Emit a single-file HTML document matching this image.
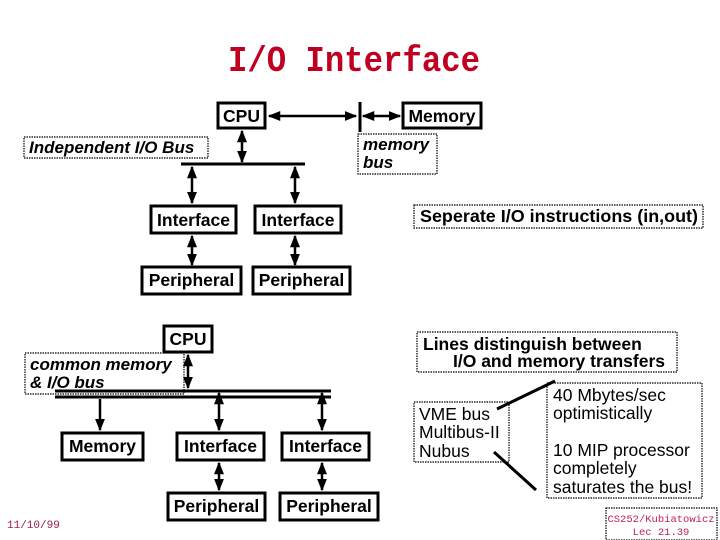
<!DOCTYPE html>
<html><head><style>
body{margin:0;background:#fff}
svg{display:block}
.b{font-family:"Liberation Sans",sans-serif;font-weight:bold;font-size:17.5px}
.i{font-family:"Liberation Sans",sans-serif;font-weight:bold;font-style:italic;font-size:17px}
.n{font-family:"Liberation Sans",sans-serif;font-size:17.5px}
</style></head><body>
<svg width="720" height="540" viewBox="0 0 720 540" xmlns="http://www.w3.org/2000/svg">
<defs>
<marker id="a" viewBox="0 0 10 10" refX="9" refY="5" markerWidth="5" markerHeight="5" orient="auto-start-reverse"><path d="M0,1 L10,5 L0,9z" fill="#000"/></marker>
</defs>
<text x="228" y="71" textLength="252" lengthAdjust="spacingAndGlyphs" font-family="Liberation Mono,monospace" font-weight="bold" font-size="36" fill="#c00020">I/O Interface</text>
<g fill="none" stroke="#000" stroke-width="3">
<rect x="218" y="103" width="47" height="25"/>
<rect x="403" y="103" width="78" height="25"/>
<rect x="151" y="206" width="85" height="27"/>
<rect x="255" y="206" width="86" height="27"/>
<rect x="142" y="267" width="99" height="27"/>
<rect x="253" y="267" width="97" height="27"/>
<rect x="164" y="326" width="48" height="26"/>
<rect x="62" y="433" width="81" height="27"/>
<rect x="177" y="433" width="87" height="27"/>
<rect x="282" y="433" width="87" height="27"/>
<rect x="168" y="493" width="97" height="27"/>
<rect x="280" y="493" width="98" height="27"/>
</g>
<g fill="none" stroke="#000" stroke-width="1.2" stroke-dasharray="1.5,1">
<rect x="24" y="137" width="184" height="21"/>
<rect x="358" y="134" width="79" height="40"/>
<rect x="414" y="205" width="289" height="23"/>
<rect x="25" y="353" width="159" height="41"/>
<rect x="417" y="332" width="260" height="40"/>
<rect x="414" y="402" width="95" height="60"/>
<rect x="547" y="383" width="155" height="115"/>
<rect x="606" y="508" width="111" height="32"/>
</g>
<g stroke="#000" stroke-width="2.5" fill="none">
<line x1="269" y1="116" x2="356" y2="116" marker-start="url(#a)" marker-end="url(#a)"/>
<line x1="363" y1="116" x2="400" y2="116" marker-start="url(#a)" marker-end="url(#a)"/>
<line x1="360" y1="102" x2="360" y2="132" stroke-width="3"/>
<line x1="242" y1="131" x2="242" y2="162" marker-start="url(#a)" marker-end="url(#a)"/>
<line x1="181" y1="164" x2="305" y2="164" stroke-width="3"/>
<line x1="192" y1="167" x2="192" y2="203" marker-start="url(#a)" marker-end="url(#a)"/>
<line x1="295" y1="167" x2="295" y2="203" marker-start="url(#a)" marker-end="url(#a)"/>
<line x1="192" y1="236" x2="192" y2="265" marker-start="url(#a)" marker-end="url(#a)"/>
<line x1="295" y1="236" x2="295" y2="265" marker-start="url(#a)" marker-end="url(#a)"/>
<line x1="188" y1="355" x2="188" y2="388" marker-start="url(#a)" marker-end="url(#a)"/>
<line x1="55" y1="391" x2="331" y2="391" stroke-width="3"/>
<line x1="55" y1="397" x2="331" y2="397" stroke-width="3"/>
<line x1="100" y1="399" x2="100" y2="430" marker-end="url(#a)"/>
<line x1="219" y1="393" x2="219" y2="430" marker-start="url(#a)" marker-end="url(#a)"/>
<line x1="322" y1="393" x2="322" y2="430" marker-start="url(#a)" marker-end="url(#a)"/>
<line x1="219" y1="463" x2="219" y2="490" marker-start="url(#a)" marker-end="url(#a)"/>
<line x1="322" y1="463" x2="322" y2="490" marker-start="url(#a)" marker-end="url(#a)"/>
<line x1="497" y1="409" x2="555" y2="381" stroke-width="3"/>
<line x1="494" y1="452" x2="536" y2="490" stroke-width="3"/>
</g>
<text class="b" x="241.5" y="122" text-anchor="middle">CPU</text>
<text class="b" x="442" y="122" text-anchor="middle">Memory</text>
<text class="i" x="29" y="153">Independent I/O Bus</text>
<text class="i" x="363" y="150">memory</text>
<text class="i" x="363" y="168">bus</text>
<text class="b" x="193.5" y="226" text-anchor="middle">Interface</text>
<text class="b" x="298" y="226" text-anchor="middle">Interface</text>
<text class="b" x="191.5" y="286" text-anchor="middle">Peripheral</text>
<text class="b" x="301.5" y="286" text-anchor="middle">Peripheral</text>
<text class="b" x="420" y="222" textLength="278" lengthAdjust="spacingAndGlyphs">Seperate I/O instructions (in,out)</text>
<text class="b" x="188" y="345" text-anchor="middle">CPU</text>
<text class="i" x="30" y="370">common memory</text>
<text class="i" x="30" y="388">&amp; I/O bus</text>
<text class="b" x="102.5" y="452" text-anchor="middle">Memory</text>
<text class="b" x="220.5" y="452" text-anchor="middle">Interface</text>
<text class="b" x="325.5" y="452" text-anchor="middle">Interface</text>
<text class="b" x="216.5" y="512" text-anchor="middle">Peripheral</text>
<text class="b" x="329" y="512" text-anchor="middle">Peripheral</text>
<text class="b" x="423" y="350">Lines distinguish between</text>
<text class="b" x="453" y="367">I/O and memory transfers</text>
<text class="n" x="419" y="420">VME bus</text>
<text class="n" x="419" y="438">Multibus-II</text>
<text class="n" x="419" y="457">Nubus</text>
<text class="n" x="553" y="401">40 Mbytes/sec</text>
<text class="n" x="553" y="419">optimistically</text>
<text class="n" x="553" y="456">10 MIP processor</text>
<text class="n" x="553" y="474">completely</text>
<text class="n" x="553" y="493">saturates the bus!</text>
<text x="7" y="528" font-family="Liberation Mono,monospace" font-size="11" fill="#a0204a">11/10/99</text>
<text x="661" y="522" text-anchor="middle" font-family="Liberation Mono,monospace" font-size="10.5" fill="#c0205a">CS252/Kubiatowicz</text>
<text x="661" y="535" text-anchor="middle" font-family="Liberation Mono,monospace" font-size="10.5" fill="#c0205a">Lec 21.39</text>
</svg>
</body></html>
